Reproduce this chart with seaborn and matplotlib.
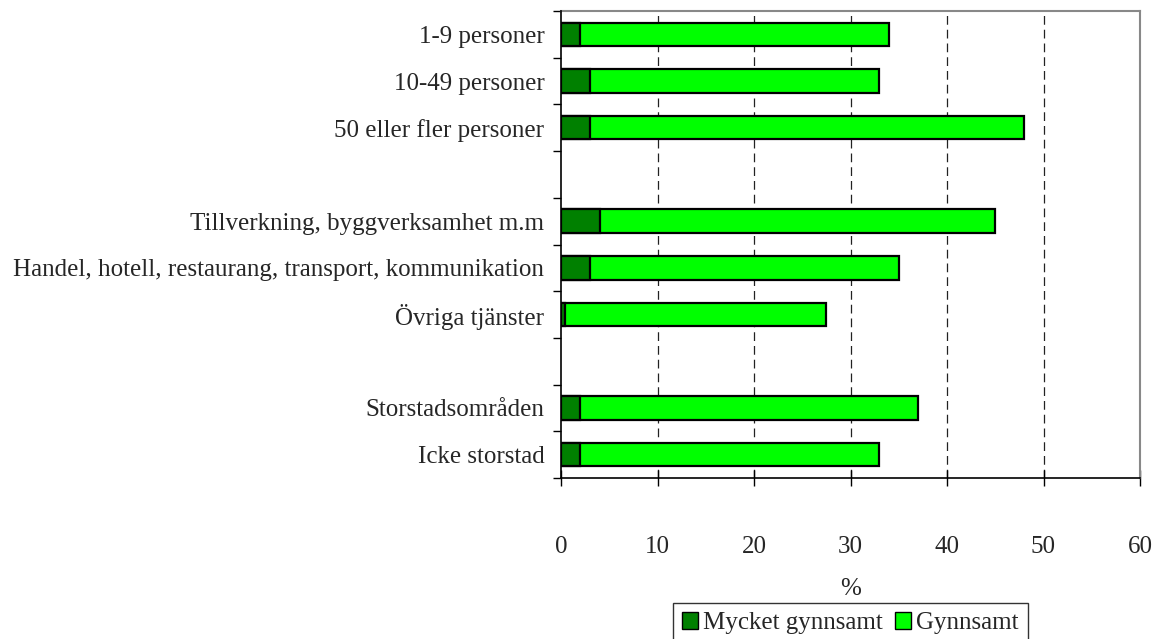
import matplotlib
matplotlib.use("Agg")
import matplotlib.pyplot as plt
import seaborn as sns
import pandas as pd
import numpy as np
from matplotlib.patches import Patch

categories = ["1-9 personer", "10-49 personer", "50 eller fler personer",
              "Tillverkning, byggverksamhet m.m",
              "Handel, hotell, restaurang, transport, kommunikation",
              "Övriga tjänster", "Storstadsområden", "Icke storstad"]
mycket_gynnsamt = [2, 3, 3, 4, 3, 0.4, 2, 2]
gynnsamt = [32, 30, 45, 41, 32, 27.1, 35, 31]
order = ["1-9 personer", "10-49 personer", "50 eller fler personer", " ",
         "Tillverkning, byggverksamhet m.m",
         "Handel, hotell, restaurang, transport, kommunikation",
         "Övriga tjänster", "  ", "Storstadsområden", "Icke storstad"]
x_ticks = [0, 10, 20, 30, 40, 50, 60]
grid_x = [10, 20, 30, 40, 50]

sns.set_style("white")
plt.rcParams["font.family"] = ["Liberation Serif", "DejaVu Serif"]

df = pd.DataFrame({"cat": categories, "mycket": mycket_gynnsamt, "gyn": gynnsamt})
df["total"] = df["mycket"] + df["gyn"]

fig = plt.figure(figsize=(11.62, 6.39), dpi=100)
ax = fig.add_axes([561 / 1162, 1 - 478 / 639, (1140 - 561) / 1162, (478 - 11) / 639])

dark = "#008000"
light = "#00FF00"
for gx in grid_x:
    ax.axvline(gx, color="#222222", linestyle=(0, (7, 4)), linewidth=0.9, zorder=0.5)

sns.barplot(data=df, y="cat", x="total", order=order, orient="h", color=light,
            saturation=1, edgecolor="black", linewidth=1.6, width=0.5, ax=ax, zorder=2)
sns.barplot(data=df, y="cat", x="mycket", order=order, orient="h", color=dark,
            saturation=1, edgecolor="black", linewidth=1.6, width=0.5, ax=ax, zorder=2)

ax.set_xlim(0, 60)
ax.set_ylim(9.5, -0.5)
ax.set_xticks(x_ticks)
ax.set_xticklabels([str(t) for t in x_ticks], fontsize=18)
ax.grid(False)

ax.set_yticks(range(len(order)))
ax.set_yticklabels(order, fontsize=18)
ax.tick_params(axis="y", which="major", left=True, length=0, pad=12)
ax.set_yticks(np.arange(-0.5, len(order), 1), minor=True)
ax.tick_params(axis="y", which="minor", left=True, length=6, direction="out",
               width=1, color="black")
ax.tick_params(axis="x", which="major", bottom=True, length=12, direction="inout",
               width=1, color="black", pad=36)

ax.set_xlabel("%", fontsize=18, labelpad=14)
ax.set_ylabel("")

for s in ["left", "bottom"]:
    ax.spines[s].set_visible(True)
    ax.spines[s].set_color("black")
    ax.spines[s].set_linewidth(1.2)
    ax.spines[s].set_zorder(5)
for s in ["top", "right"]:
    ax.spines[s].set_visible(True)
    ax.spines[s].set_color("#888888")
    ax.spines[s].set_linewidth(1.5)

handles = [Patch(facecolor=dark, edgecolor="black", label="Mycket gynnsamt"),
           Patch(facecolor=light, edgecolor="black", label="Gynnsamt")]
leg = fig.legend(handles=handles, loc="upper left", bbox_to_anchor=(673 / 1162, 1 - 603 / 639),
                 ncol=2, fontsize=18, frameon=True, fancybox=False, handlelength=0.64,
                 handleheight=0.64, handletextpad=0.2, columnspacing=0.5,
                 borderpad=0.36, borderaxespad=0)
leg.get_frame().set_edgecolor("black")
leg.get_frame().set_linewidth(1.0)

fig.savefig("out.png", dpi=100)
